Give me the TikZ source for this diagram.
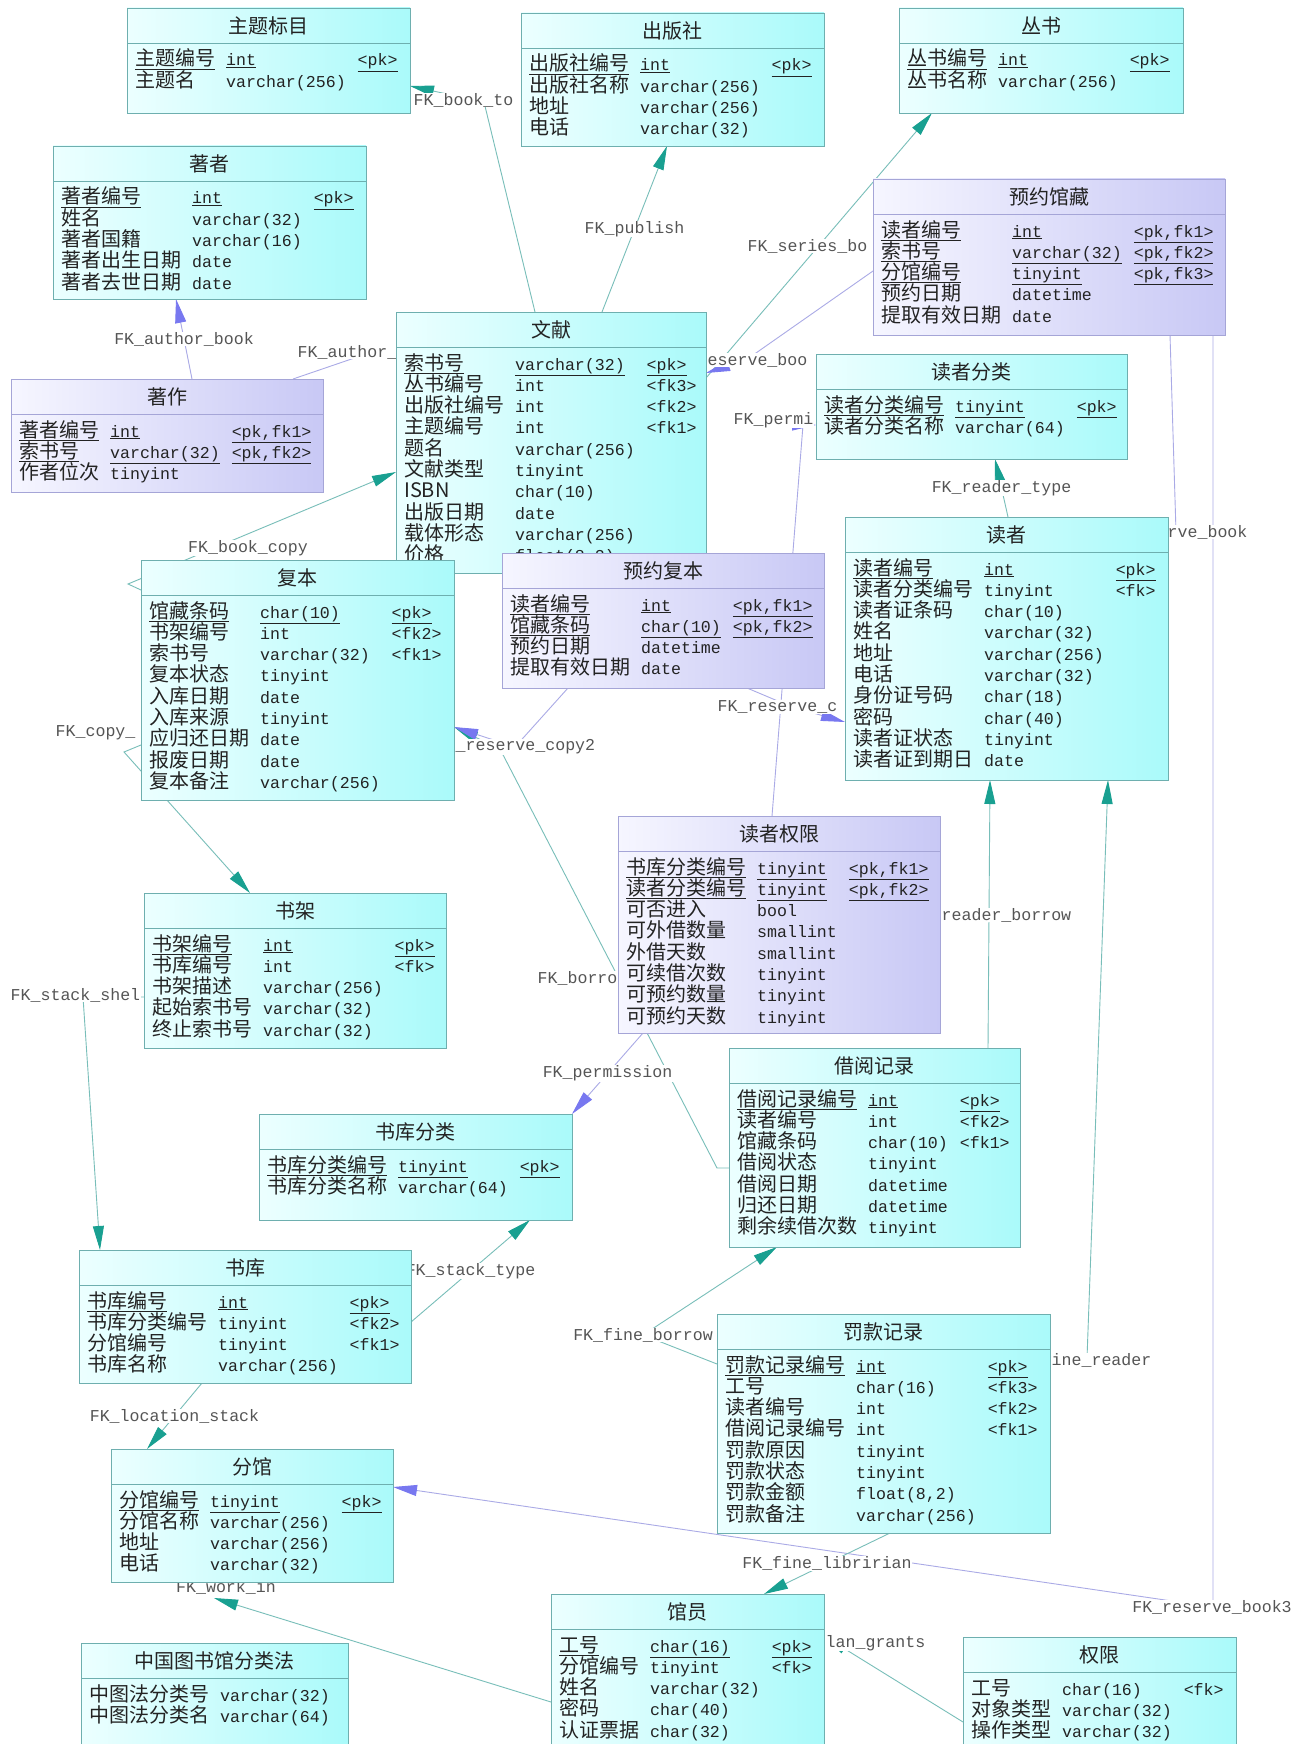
\documentclass[tikz,border=0pt]{standalone}
\usepackage{fontspec}
\usepackage{array}
\setmainfont{Noto Sans CJK SC}
\setmonofont{Liberation Mono}[Scale=0.83]
\usetikzlibrary{arrows.meta}
\pgfdeclarelayer{bg}
\pgfsetlayers{bg,main}
\definecolor{cyanedge}{RGB}{110,175,175}
\definecolor{purpedge}{RGB}{165,165,215}
\definecolor{cyanlo}{RGB}{236,255,255}
\definecolor{cyanhi}{RGB}{170,250,250}
\definecolor{purplo}{RGB}{246,246,255}
\definecolor{purphi}{RGB}{200,200,245}
\definecolor{fkline}{RGB}{120,190,185}
\definecolor{fkarrow}{RGB}{25,160,145}
\definecolor{fkpline}{RGB}{170,170,230}
\definecolor{fkparrow}{RGB}{120,120,240}
\definecolor{lblgrey}{RGB}{85,85,85}
\definecolor{tbltext}{RGB}{35,35,35}
\renewcommand{\arraystretch}{0.5}
\newcolumntype{N}{>{\rule[-4pt]{0pt}{21.3pt}}l}
\newcolumntype{T}{>{\ttfamily}l}
\newcommand{\keyul}[1]{\smash{\underline{#1}}}
\newcommand{\ertable}[8]{%
  \node[#1, minimum width=#5pt, minimum height=#6pt] (#2) at (#3,#4) {};
  \draw[#1 rule] ([yshift=-35pt]#2.north west) -- ([yshift=-35pt]#2.north east);
  \node[tbltitle] (#2-title) at ([yshift=-17.5pt]#2.north) {#7};
  \node[tblrows] (#2-rows) at ([xshift=8pt,yshift=-40.5pt]#2.north west)
    {\begin{tabular}{@{}N@{\hspace{11pt}}T@{\hspace{12pt}}T@{}}#8\end{tabular}};
}

\begin{document}
\begin{tikzpicture}[x=1pt, y=-1pt,
  font=\fontsize{20}{21.3}\selectfont,
  cyanbox/.style={draw=cyanedge, line width=0.9pt, left color=cyanlo, right color=cyanhi, anchor=north west, outer sep=0pt, inner sep=0pt},
  cyanbox rule/.style={draw=cyanedge, line width=0.9pt},
  purpbox/.style={draw=purpedge, line width=0.9pt, left color=purplo, right color=purphi, anchor=north west, outer sep=0pt, inner sep=0pt},
  purpbox rule/.style={draw=purpedge, line width=0.9pt},
  tbltitle/.style={inner sep=0pt, text=tbltext},
  tblrows/.style={anchor=north west, inner sep=0pt, text=tbltext},
  fk/.style={draw=fkline, line width=0.9pt, -{Triangle[length=24pt,width=11pt,color=fkarrow]}},
  fkp/.style={draw=fkpline, line width=0.9pt, -{Triangle[length=24pt,width=11pt,color=fkparrow]}},
  lbl/.style={font=\fontsize{20}{21.3}\selectfont\ttfamily, text=lblgrey, fill=white, inner sep=0.5pt}
]
\useasboundingbox (0,0) rectangle (1309,1744);

\ertable{cyanbox}{zhuti}{127}{8}{283}{105}{主题标目}{%
\keyul{主题编号} & \keyul{int} & \keyul{<pk>}\\
主题名 & varchar(256) &}

\ertable{cyanbox}{chubanshe}{521}{13}{303}{133}{出版社}{%
\keyul{出版社编号} & \keyul{int} & \keyul{<pk>}\\
出版社名称 & varchar(256) &\\
地址 & varchar(256) &\\
电话 & varchar(32) &}

\ertable{cyanbox}{congshu}{899}{8}{284}{105}{丛书}{%
\keyul{丛书编号} & \keyul{int} & \keyul{<pk>}\\
丛书名称 & varchar(256) &}

\ertable{cyanbox}{zhuzhe}{53}{146}{313}{153}{著者}{%
\keyul{著者编号} & \keyul{int} & \keyul{<pk>}\\
姓名 & varchar(32) &\\
著者国籍 & varchar(16) &\\
著者出生日期 & date &\\
著者去世日期 & date &}

\ertable{purpbox}{yuyueguancang}{873}{179}{352}{156}{预约馆藏}{%
\keyul{读者编号} & \keyul{int} & \keyul{<pk,fk1>}\\
\keyul{索书号} & \keyul{varchar(32)} & \keyul{<pk,fk2>}\\
\keyul{分馆编号} & \keyul{tinyint} & \keyul{<pk,fk3>}\\
预约日期 & datetime &\\
提取有效日期 & date &}

\ertable{purpbox}{zhuzuo}{11}{379}{312}{113}{著作}{%
\keyul{著者编号} & \keyul{int} & \keyul{<pk,fk1>}\\
\keyul{索书号} & \keyul{varchar(32)} & \keyul{<pk,fk2>}\\
作者位次 & tinyint &}

\ertable{cyanbox}{wenxian}{396}{312}{310}{261}{文献}{%
\keyul{索书号} & \keyul{varchar(32)} & \keyul{<pk>}\\
丛书编号 & int & <fk3>\\
出版社编号 & int & <fk2>\\
主题编号 & int & <fk1>\\
题名 & varchar(256) &\\
文献类型 & tinyint &\\
ISBN & char(10) &\\
出版日期 & date &\\
载体形态 & varchar(256) &\\
价格 & float(8,2) &}

\ertable{cyanbox}{duzhefenlei}{816}{354}{311}{105}{读者分类}{%
\keyul{读者分类编号} & \keyul{tinyint} & \keyul{<pk>}\\
读者分类名称 & varchar(64) &}

\ertable{cyanbox}{duzhe}{845}{517}{323}{263}{读者}{%
\keyul{读者编号} & \keyul{int} & \keyul{<pk>}\\
读者分类编号 & tinyint & <fk>\\
读者证条码 & char(10) &\\
姓名 & varchar(32) &\\
地址 & varchar(256) &\\
电话 & varchar(32) &\\
身份证号码 & char(18) &\\
密码 & char(40) &\\
读者证状态 & tinyint &\\
读者证到期日 & date &}

\ertable{cyanbox}{fuben}{141}{560}{313}{240}{复本}{%
\keyul{馆藏条码} & \keyul{char(10)} & \keyul{<pk>}\\
书架编号 & int & <fk2>\\
索书号 & varchar(32) & <fk1>\\
复本状态 & tinyint &\\
入库日期 & date &\\
入库来源 & tinyint &\\
应归还日期 & date &\\
报废日期 & date &\\
复本备注 & varchar(256) &}

\ertable{purpbox}{yuyuefuben}{502}{553}{322}{135}{预约复本}{%
\keyul{读者编号} & \keyul{int} & \keyul{<pk,fk1>}\\
\keyul{馆藏条码} & \keyul{char(10)} & \keyul{<pk,fk2>}\\
预约日期 & datetime &\\
提取有效日期 & date &}

\ertable{purpbox}{duzhequanxian}{618}{816}{322}{217}{读者权限}{%
\keyul{书库分类编号} & \keyul{tinyint} & \keyul{<pk,fk1>}\\
\keyul{读者分类编号} & \keyul{tinyint} & \keyul{<pk,fk2>}\\
可否进入 & bool &\\
可外借数量 & smallint &\\
外借天数 & smallint &\\
可续借次数 & tinyint &\\
可预约数量 & tinyint &\\
可预约天数 & tinyint &}

\ertable{cyanbox}{shujia}{144}{893}{302}{155}{书架}{%
\keyul{书架编号} & \keyul{int} & \keyul{<pk>}\\
书库编号 & int & <fk>\\
书架描述 & varchar(256) &\\
起始索书号 & varchar(32) &\\
终止索书号 & varchar(32) &}

\ertable{cyanbox}{jieyue}{729}{1048}{291}{199}{借阅记录}{%
\keyul{借阅记录编号} & \keyul{int} & \keyul{<pk>}\\
读者编号 & int & <fk2>\\
馆藏条码 & char(10) & <fk1>\\
借阅状态 & tinyint &\\
借阅日期 & datetime &\\
归还日期 & datetime &\\
剩余续借次数 & tinyint &}

\ertable{cyanbox}{shukufenlei}{259}{1114}{313}{106}{书库分类}{%
\keyul{书库分类编号} & \keyul{tinyint} & \keyul{<pk>}\\
书库分类名称 & varchar(64) &}

\ertable{cyanbox}{shuku}{79}{1250}{332}{133}{书库}{%
\keyul{书库编号} & \keyul{int} & \keyul{<pk>}\\
书库分类编号 & tinyint & <fk2>\\
分馆编号 & tinyint & <fk1>\\
书库名称 & varchar(256) &}

\ertable{cyanbox}{fakuan}{717}{1314}{333}{219}{罚款记录}{%
\keyul{罚款记录编号} & \keyul{int} & \keyul{<pk>}\\
工号 & char(16) & <fk3>\\
读者编号 & int & <fk2>\\
借阅记录编号 & int & <fk1>\\
罚款原因 & tinyint &\\
罚款状态 & tinyint &\\
罚款金额 & float(8,2) &\\
罚款备注 & varchar(256) &}

\ertable{cyanbox}{fenguan}{111}{1449}{282}{133}{分馆}{%
\keyul{分馆编号} & \keyul{tinyint} & \keyul{<pk>}\\
分馆名称 & varchar(256) &\\
地址 & varchar(256) &\\
电话 & varchar(32) &}

\ertable{cyanbox}{guanyuan}{551}{1594}{273}{170}{馆员}{%
\keyul{工号} & \keyul{char(16)} & \keyul{<pk>}\\
分馆编号 & tinyint & <fk>\\
姓名 & varchar(32) &\\
密码 & char(40) &\\
认证票据 & char(32) &}

\ertable{cyanbox}{quanxian}{963}{1637}{273}{130}{权限}{%
工号 & char(16) & <fk>\\
对象类型 & varchar(32) &\\
操作类型 & varchar(32) &}

\ertable{cyanbox}{zhongtufa}{81}{1643}{267}{130}{中国图书馆分类法}{%
中图法分类号 & varchar(32) &\\
中图法分类名 & varchar(64) &}

\coordinate (workin-tip) at (214,1598);
\begin{pgfonlayer}{bg}
\fill[white] (0,0) rectangle (1309,1744);
\draw[fk] (wenxian.north -| 535,0) -- (484,102) -- (zhuti.east |- 0,86);
\draw[fk] (wenxian.north -| 602,0) -- node[lbl] (l-publish) {FK\_publish} (chubanshe.south -| 667,0);
\draw[fk] (wenxian.east |- 0,378) -- (congshu.south -| 932,0);
\draw[fkp] (yuyueguancang.west |- 0,271) -- (746,360) -- (wenxian.east |- 0,373);
\draw[fkp] (zhuzuo.north -| 192,0) -- node[lbl] (l-author) {FK\_author\_book} (zhuzhe.south -| 176,0);
\draw[fkp] (zhuzuo.north -| 293,0) -- (372,352) -- (wenxian.west |- 0,350);
\draw[fk] (fuben.west |- 0,590) -- (128,584) -- (wenxian.west |- 0,472);
\draw[fk] (fuben.west |- 0,745) -- (124,752) -- (shujia.north -| 250,0);
\draw[fk] (jieyue.west |- 0,1168) -- (717,1168) -- (500,749) -- (fuben.east |- 0,727);
\draw[fkp] (yuyuefuben.south -| 568,0) -- (515,747) -- (fuben.east |- 0,727);
\draw[fkp] (yuyuefuben.south -| 747,0) -- (792,707) -- (duzhe.west |- 0,722);
\draw[fkp] (duzhequanxian.north -| 772,0) -- (803,425) -- (duzhefenlei.west |- 0,425);
\draw[fk] (duzhe.north -| 1008,0) -- node[lbl] (l-readertype) {FK\_reader\_type} (duzhefenlei.south -| 995,0);
\draw[fkp] (yuyueguancang.south -| 1170,0) -- (1176,532) -- (duzhe.east |- 0,532);
\draw[fkp] (yuyueguancang.south -| 1213,0) -- (1213,1607) -- (fenguan.east |- 0,1487);
\draw[fk] (jieyue.north -| 988,0) -- (duzhe.south -| 990,0);
\draw[fk] (fakuan.east |- 0,1362) -- (1087,1358) -- (duzhe.south -| 1108,0);
\draw[fk] (fakuan.west |- 0,1364) -- (643,1335) -- (jieyue.south -| 777,0);
\draw[fk] (fakuan.south -| 890,0) -- node[lbl] (l-finelib) {FK\_fine\_libririan} (guanyuan.north -| 764,0);
\draw[fk] (quanxian.west |- 0,1722) -- (guanyuan.east |- 0,1636);
\draw[fk] (guanyuan.west |- 0,1702) -- (workin-tip);
\draw[fk] (shuku.south -| 202,0) -- node[lbl] (l-location) {FK\_location\_stack} (fenguan.north -| 147,0);
\draw[fk] (shuku.east |- 0,1322) -- node[lbl] (l-stacktype) {FK\_stack\_type} (shukufenlei.south -| 530,0);
\draw[fk] (shujia.west |- 0,997) -- (83,997) -- (shuku.north -| 100,0);
\draw[fkp] (duzhequanxian.south -| 643,0) -- node[lbl] (l-permission) {FK\_permission} (shukufenlei.north -| 572,0);
\node[lbl, anchor=west] (l-topic) at (413,100) {FK\_book\_to};
\node[lbl, anchor=west] (l-series) at (747,246) {FK\_series\_bo};
\node[lbl, anchor=west] (l-reserve2) at (707,360) {eserve\_boo};
\node[lbl, anchor=west] (l-author2) at (297,352) {FK\_author\_};
\node[lbl] (l-bookcopy) at (248,548) {FK\_book\_copy};
\node[lbl, anchor=west] (l-copyshelf) at (55,733) {FK\_copy\_};
\node[lbl, anchor=west] (l-copy2) at (455,747) {\_reserve\_copy2};
\node[lbl, anchor=west] (l-borrow) at (537,978) {FK\_borro};
\node[lbl, anchor=west] (l-resc) at (717,707) {FK\_reserve\_c};
\node[lbl, anchor=west] (l-permi) at (733,420) {FK\_permi};
\node[lbl, anchor=west] (l-reservebook) at (1167,532) {rve\_book};
\node[lbl] (l-reservebook3) at (1212,1607) {FK\_reserve\_book3};
\node[lbl, anchor=west] (l-readerborrow) at (941,915) {reader\_borrow};
\node[lbl, anchor=west] (l-finereader) at (1051,1360) {ine\_reader};
\node[lbl] (l-fineborrow) at (643,1335) {FK\_fine\_borrow};
\node[lbl, anchor=west] (l-grants) at (825,1643) {lan\_grants};
\node[lbl] (l-workin) at (226,1587) {FK\_work\_in};
\node[lbl, anchor=west] (l-stackshelf) at (10,995) {FK\_stack\_shel};
\end{pgfonlayer}
\end{tikzpicture}
\end{document}
